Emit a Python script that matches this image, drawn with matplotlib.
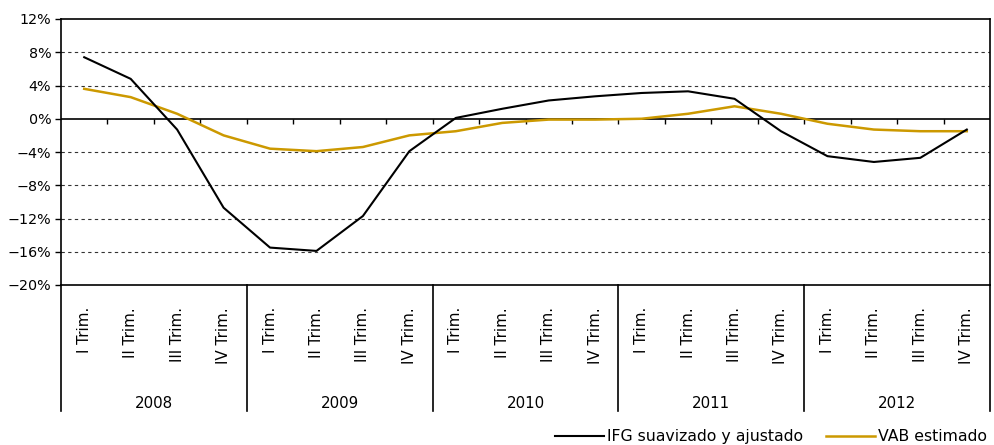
import matplotlib
matplotlib.use('Agg')
import matplotlib.pyplot as plt
import matplotlib.transforms as mtransforms

# datos (variacion interanual, %)
years = ['2008', '2009', '2010', '2011', '2012']
quarters = ['I Trim.', 'II Trim.', 'III Trim.', 'IV Trim.']
ifg = [7.4, 4.8, -1.3, -10.7,
       -15.5, -15.9, -11.7, -3.9,
       0.1, 1.2, 2.2, 2.7,
       3.1, 3.3, 2.4, -1.5,
       -4.5, -5.2, -4.7, -1.3]
vab = [3.6, 2.6, 0.6, -2.0,
       -3.6, -3.9, -3.4, -2.0,
       -1.5, -0.5, -0.1, -0.1,
       0.0, 0.6, 1.5, 0.6,
       -0.6, -1.3, -1.5, -1.5]

W, H = 994, 445
fig = plt.figure(figsize=(W / 100, H / 100), dpi=100)
ax = fig.add_axes([61 / W, (H - 285) / H, (990 - 61) / W, (285 - 19) / H])

x = list(range(len(ifg)))
ax.plot(x, ifg, color='black', lw=1.5, label='IFG suavizado y ajustado', zorder=4)
ax.plot(x, vab, color='#CC9900', lw=1.8, label='VAB estimado', zorder=3)

ax.set_xlim(-0.5, len(ifg) - 0.5)
ax.set_ylim(-20, 12)
ax.set_yticks(range(-20, 13, 4))
ax.set_yticklabels([('−' if v < 0 else '') + f'{abs(v)}%' for v in range(-20, 13, 4)], fontsize=10.3)
ax.tick_params(axis='y', length=4, width=1, pad=3)
ax.set_xticks([])

for v in range(-16, 12, 4):
    if v != 0:
        ax.axhline(v, color='#333333', lw=0.8, ls=(0, (3, 3)), zorder=1)
ax.axhline(0, color='black', lw=1.2, zorder=2)
# marcas entre trimestres sobre la linea del cero
ax.vlines([i + 0.5 for i in range(len(ifg) - 1)], -0.6, 0, color='black', lw=1, zorder=2)

for s in ax.spines.values():
    s.set_linewidth(1.2)

# eje de categorias en dos niveles
trans = mtransforms.blended_transform_factory(ax.transData, fig.transFigure)
fy = lambda py: (H - py) / H
for i in range(len(ifg)):
    ax.text(i, fy(307), quarters[i % 4], rotation=90, ha='center', va='top',
            fontsize=10.9, transform=trans)
for k, yr in enumerate(years):
    ax.text(4 * k + 1.5, fy(403), yr, ha='center', va='center', fontsize=10.8, transform=trans)
for k in range(len(years) + 1):
    ax.plot([4 * k - 0.5] * 2, [fy(285), fy(411)], color='black', lw=1.2,
            transform=trans, clip_on=False)

fig.legend(loc='lower right', bbox_to_anchor=(993 / W, -0.012), ncol=2, frameon=False,
           prop={'size': 11.3}, handlelength=3.1, columnspacing=1.45, borderaxespad=0.0,
           handletextpad=0.2)

fig.savefig('out.png', dpi=100)
